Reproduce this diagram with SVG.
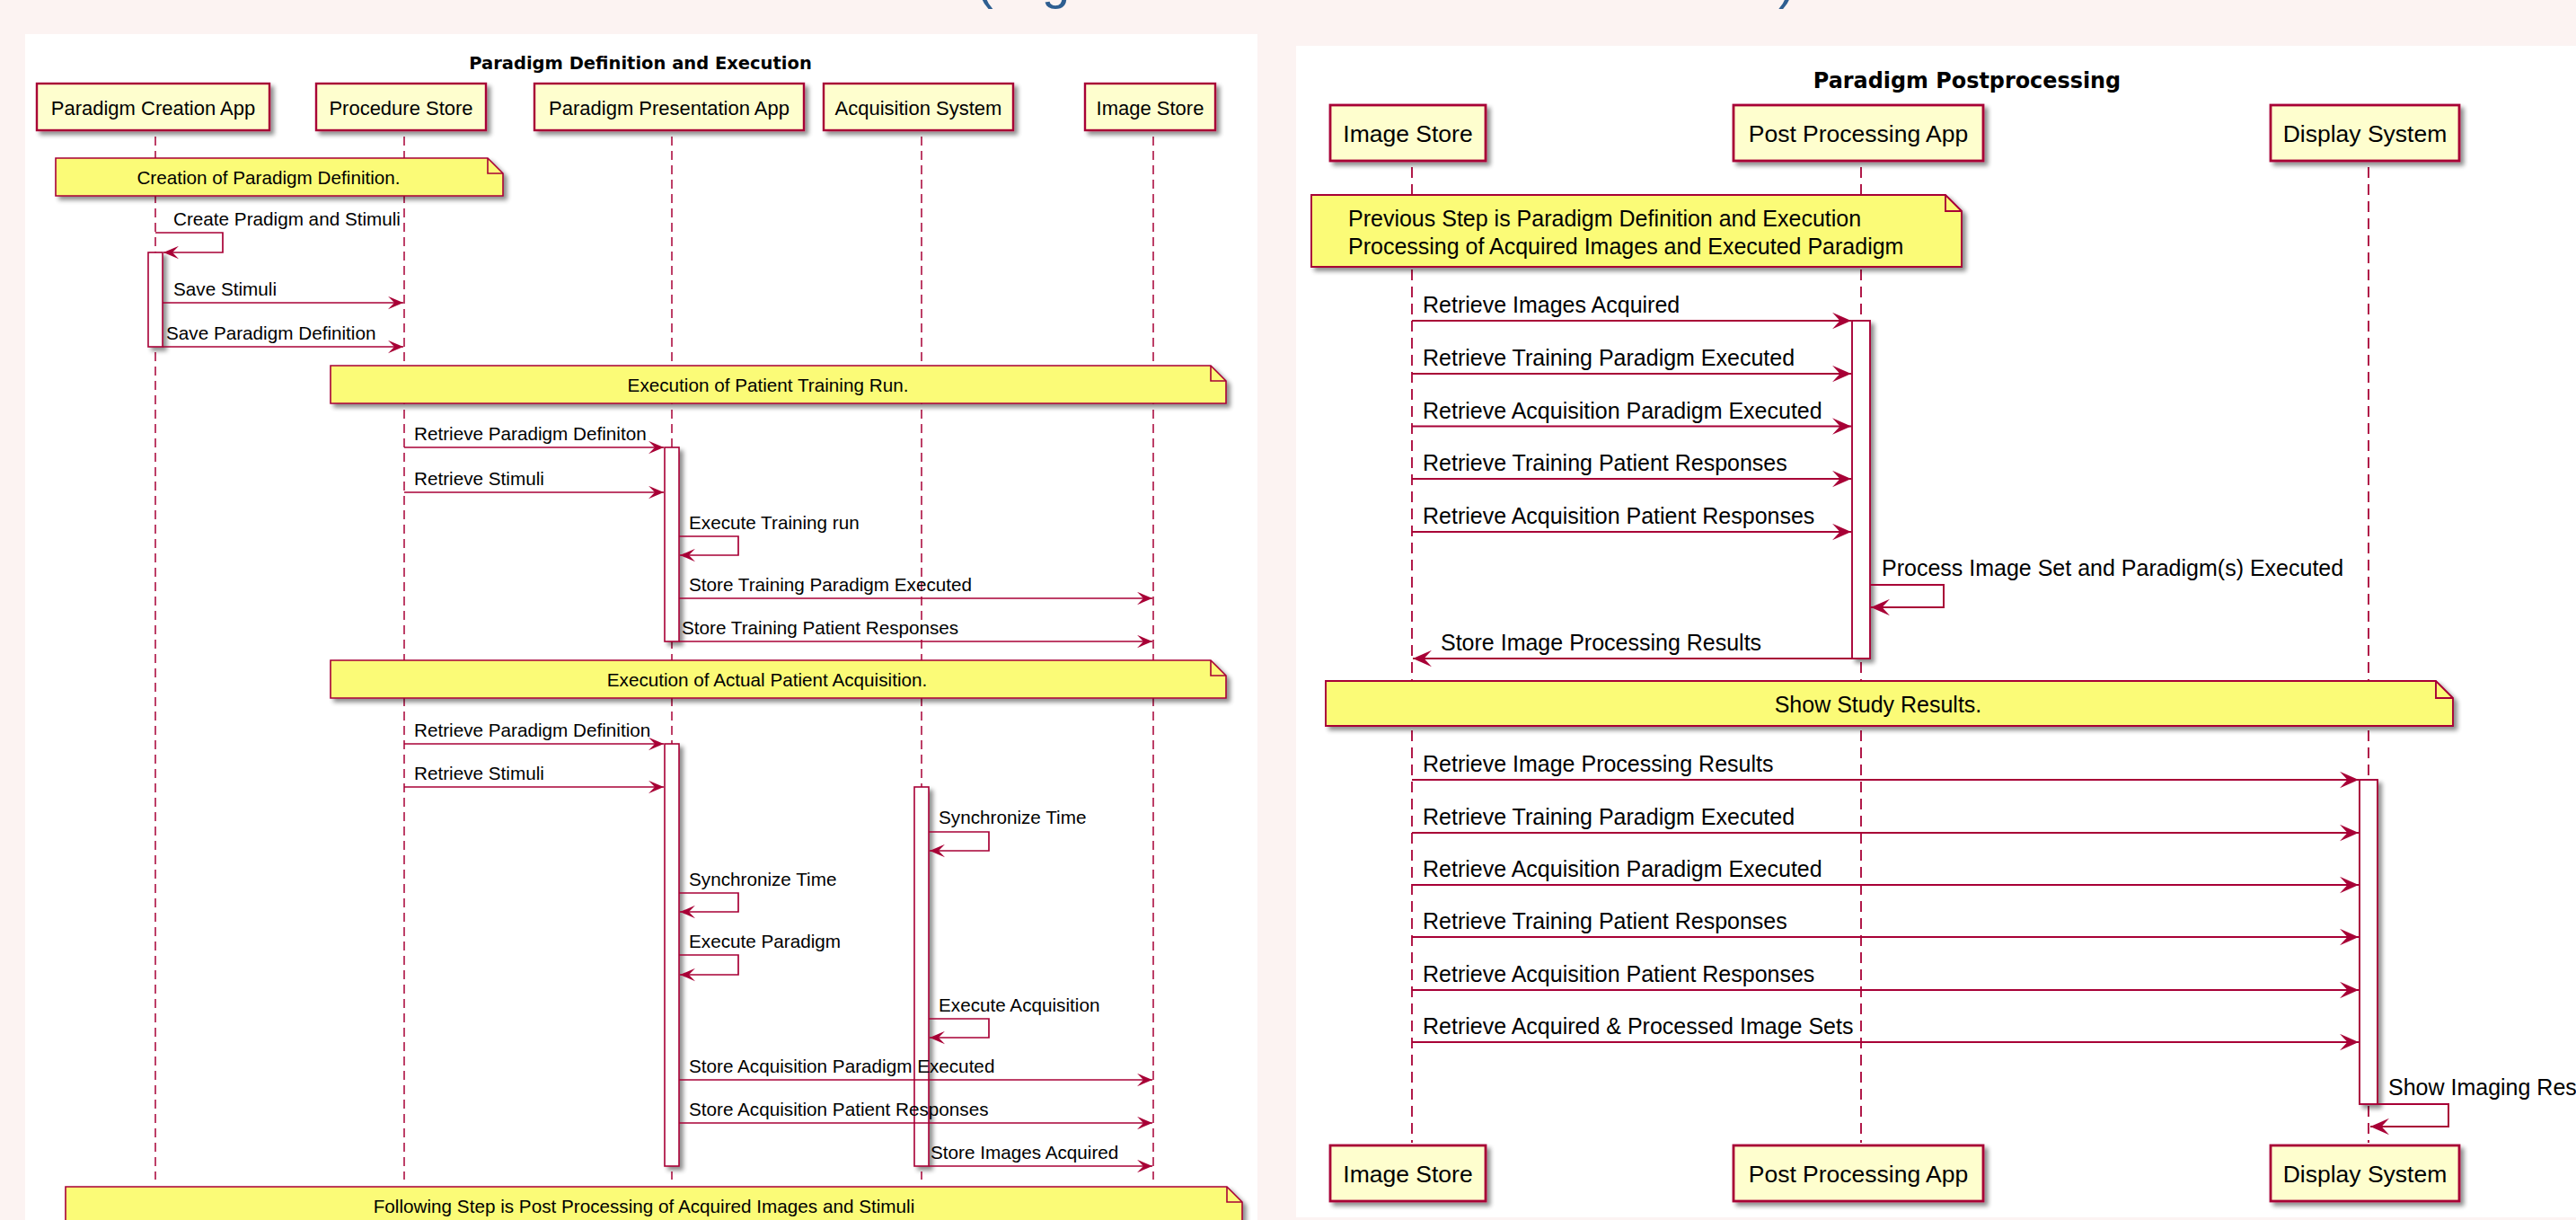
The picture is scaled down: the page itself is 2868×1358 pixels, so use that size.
<svg xmlns="http://www.w3.org/2000/svg" width="2868" height="1358" viewBox="0 0 2868 1358">
<defs>
<style>
.bg{fill:#FCF3F2}
.panel{fill:#FFFFFF}
.title{font-family:"DejaVu Sans",Verdana,sans-serif;font-weight:bold;fill:#000;text-anchor:middle}
.tL{font-size:19.5px}
.tR{font-size:23.9px}
.part{fill:#FEFECE;stroke:#A80036;filter:url(#sh)}
.partL{stroke-width:2.4}
.partR{stroke-width:2.8}
.ptxt{font-family:"Liberation Sans",Arial,sans-serif;fill:#000;text-anchor:middle}
.ptL{font-size:22px}
.ptR{font-size:26.5px}
.life{stroke:#A80036;fill:none}
.lifeL{stroke-width:1.5;stroke-dasharray:10,6}
.lifeR{stroke-width:1.8;stroke-dasharray:12,7}
.act{fill:#FFFFFF;stroke:#A80036;filter:url(#sh)}
.actL{stroke-width:1.6}
.actR{stroke-width:1.9}
.note{fill:#FBFB77;stroke:#A80036;filter:url(#sh)}
.fold{fill:none;stroke:#A80036}
.nL{stroke-width:1.6}
.nR{stroke-width:1.9}
.msg{fill:none;stroke:#A80036}
.mL{stroke-width:1.7;marker-end:url(#ahL)}
.mR{stroke-width:2;marker-end:url(#ahR)}
.mtxt{font-family:"Liberation Sans",Arial,sans-serif;fill:#000}
.mtL{font-size:20.7px}
.mtR{font-size:25px}
.mid{text-anchor:middle}
</style>
<filter id="sh" x="-0.5" y="-0.5" width="2.5" height="2.5">
<feGaussianBlur in="SourceAlpha" stdDeviation="2.5"/>
<feOffset dx="4" dy="4" result="o"/>
<feComponentTransfer in="o" result="s"><feFuncA type="linear" slope="0.45"/></feComponentTransfer>
<feMerge><feMergeNode in="s"/><feMergeNode in="SourceGraphic"/></feMerge>
</filter>
<marker id="ahL" viewBox="0 0 17 15" refX="17" refY="7.5" markerWidth="17" markerHeight="15" orient="auto" markerUnits="userSpaceOnUse">
<path d="M17,7.5 L0,0.3 L7,7.5 L0,14.7 Z" fill="#A80036"/>
</marker>
<marker id="ahR" viewBox="0 0 21 19" refX="21" refY="9.5" markerWidth="21" markerHeight="19" orient="auto" markerUnits="userSpaceOnUse">
<path d="M21,9.5 L0,0.3 L8.5,9.5 L0,18.7 Z" fill="#A80036"/>
</marker>
</defs>

<rect class="bg" x="0" y="0" width="2868" height="1358"/>
<g id="page-heading"><text x="1087" y="-2" font-family="Liberation Sans, Arial, sans-serif" font-size="56" fill="#2E5E91">(<tspan x="1160">g</tspan><tspan x="1980">)</tspan></text></g>

<!-- ===== Left panel ===== -->
<rect class="panel" x="28" y="38" width="1372" height="1320"/>
<text class="title tL" x="713" y="77">Paradigm Definition and Execution</text>

<g id="lifelines-left">
<path class="life lifeL" d="M173,152 V1313"/>
<path class="life lifeL" d="M450,152 V1313"/>
<path class="life lifeL" d="M748,152 V1313"/>
<path class="life lifeL" d="M1026,152 V1313"/>
<path class="life lifeL" d="M1284,152 V1313"/>
</g>

<g id="paradigm-creation-app">
<rect class="part partL" x="41" y="93" width="259" height="52"/>
<text class="ptxt ptL" x="170.5" y="128">Paradigm Creation App</text>
</g>
<g id="procedure-store">
<rect class="part partL" x="352" y="93" width="189" height="52"/>
<text class="ptxt ptL" x="446.5" y="128">Procedure Store</text>
</g>
<g id="paradigm-presentation-app">
<rect class="part partL" x="595" y="93" width="300" height="52"/>
<text class="ptxt ptL" x="745" y="128">Paradigm Presentation App</text>
</g>
<g id="acquisition-system">
<rect class="part partL" x="917" y="93" width="211" height="52"/>
<text class="ptxt ptL" x="1022.5" y="128">Acquisition System</text>
</g>
<g id="image-store-left">
<rect class="part partL" x="1208" y="93" width="145" height="52"/>
<text class="ptxt ptL" x="1280.5" y="128">Image Store</text>
</g>

<g id="note-creation">
<path class="note nL" d="M62,176 H543 L560,193 V218 H62 Z"/>
<path class="fold nL" d="M543,176 V193 H560"/>
<text class="mtxt mtL mid" x="299" y="205">Creation of Paradigm Definition.</text>
</g>
<g id="note-training">
<path class="note nL" d="M368,407 H1348 L1365,424 V449 H368 Z"/>
<path class="fold nL" d="M1348,407 V424 H1365"/>
<text class="mtxt mtL mid" x="855" y="436">Execution of Patient Training Run.</text>
</g>
<g id="note-acquisition">
<path class="note nL" d="M368,735 H1348 L1365,752 V777 H368 Z"/>
<path class="fold nL" d="M1348,735 V752 H1365"/>
<text class="mtxt mtL mid" x="854" y="764">Execution of Actual Patient Acquisition.</text>
</g>
<g id="note-following">
<path class="note nL" d="M73,1321 H1366 L1383,1338 V1400 H73 Z"/>
<path class="fold nL" d="M1366,1321 V1338 H1383"/>
<text class="mtxt mtL mid" x="717" y="1350">Following Step is Post Processing of Acquired Images and Stimuli</text>
</g>

<g id="activations-left">
<rect class="act actL" x="165" y="281" width="16" height="105"/>
<rect class="act actL" x="740" y="498" width="16" height="216"/>
<rect class="act actL" x="740" y="828" width="16" height="470"/>
<rect class="act actL" x="1018" y="876" width="16" height="422"/>
</g>

<g id="connectors-left">
<path class="msg mL" d="M173,259 H248 V281 H182"/>
<text class="mtxt mtL" x="193" y="251">Create Pradigm and Stimuli</text>
<path class="msg mL" d="M181,337 H449"/>
<text class="mtxt mtL" x="193" y="329">Save Stimuli</text>
<path class="msg mL" d="M181,386 H449"/>
<text class="mtxt mtL" x="185" y="378">Save Paradigm Definition</text>
<path class="msg mL" d="M450,498 H739"/>
<text class="mtxt mtL" x="461" y="490">Retrieve Paradigm Definiton</text>
<path class="msg mL" d="M450,548 H739"/>
<text class="mtxt mtL" x="461" y="540">Retrieve Stimuli</text>
<path class="msg mL" d="M756,597 H822 V618 H757"/>
<text class="mtxt mtL" x="767" y="589">Execute Training run</text>
<path class="msg mL" d="M756,666 H1283"/>
<text class="mtxt mtL" x="767" y="658">Store Training Paradigm Executed</text>
<path class="msg mL" d="M756,714 H1283"/>
<text class="mtxt mtL" x="759" y="706">Store Training Patient Responses</text>
<path class="msg mL" d="M450,828 H739"/>
<text class="mtxt mtL" x="461" y="820">Retrieve Paradigm Definition</text>
<path class="msg mL" d="M450,876 H739"/>
<text class="mtxt mtL" x="461" y="868">Retrieve Stimuli</text>
<path class="msg mL" d="M1034,926 H1101 V947 H1035"/>
<text class="mtxt mtL" x="1045" y="917">Synchronize Time</text>
<path class="msg mL" d="M756,994 H822 V1015 H757"/>
<text class="mtxt mtL" x="767" y="986">Synchronize Time</text>
<path class="msg mL" d="M756,1063 H822 V1085 H757"/>
<text class="mtxt mtL" x="767" y="1055">Execute Paradigm</text>
<path class="msg mL" d="M1034,1134 H1101 V1155 H1035"/>
<text class="mtxt mtL" x="1045" y="1126">Execute Acquisition</text>
<path class="msg mL" d="M756,1202 H1283"/>
<text class="mtxt mtL" x="767" y="1194">Store Acquisition Paradigm Executed</text>
<path class="msg mL" d="M756,1250 H1283"/>
<text class="mtxt mtL" x="767" y="1242">Store Acquisition Patient Responses</text>
<path class="msg mL" d="M1034,1298 H1283"/>
<text class="mtxt mtL" x="1036" y="1290">Store Images Acquired</text>
</g>

<!-- ===== Right panel ===== -->
<rect class="panel" x="1443" y="51" width="1425" height="1304"/>
<text class="title tR" x="2190" y="98">Paradigm Postprocessing</text>

<g id="lifelines-right">
<path class="life lifeR" d="M1572,186 V1272"/>
<path class="life lifeR" d="M2072,186 V1272"/>
<path class="life lifeR" d="M2637,186 V1272"/>
</g>

<g id="image-store-right">
<rect class="part partR" x="1481" y="117" width="173" height="62"/>
<text class="ptxt ptR" x="1567.5" y="158">Image Store</text>
<rect class="part partR" x="1481" y="1275" width="173" height="62"/>
<text class="ptxt ptR" x="1567.5" y="1316">Image Store</text>
</g>
<g id="post-processing-app">
<rect class="part partR" x="1930" y="117" width="278" height="62"/>
<text class="ptxt ptR" x="2069" y="158">Post Processing App</text>
<rect class="part partR" x="1930" y="1275" width="278" height="62"/>
<text class="ptxt ptR" x="2069" y="1316">Post Processing App</text>
</g>
<g id="display-system">
<rect class="part partR" x="2528" y="117" width="210" height="62"/>
<text class="ptxt ptR" x="2633" y="158">Display System</text>
<rect class="part partR" x="2528" y="1275" width="210" height="62"/>
<text class="ptxt ptR" x="2633" y="1316">Display System</text>
</g>

<g id="note-previous">
<path class="note nR" d="M1460,217 H2166 L2184,235 V297 H1460 Z"/>
<path class="fold nR" d="M2166,217 V235 H2184"/>
<text class="mtxt mtR" x="1501" y="252">Previous Step is Paradigm Definition and Execution</text>
<text class="mtxt mtR" x="1501" y="283">Processing of Acquired Images and Executed Paradigm</text>
</g>
<g id="note-show">
<path class="note nR" d="M1476,758 H2712 L2731,777 V808 H1476 Z"/>
<path class="fold nR" d="M2712,758 V777 H2731"/>
<text class="mtxt mtR mid" x="2091" y="793">Show Study Results.</text>
</g>

<g id="activations-right">
<rect class="act actR" x="2062" y="357" width="20" height="376"/>
<rect class="act actR" x="2627" y="868" width="20" height="361"/>
</g>

<g id="connectors-right">
<path class="msg mR" d="M1572,357 H2061"/>
<text class="mtxt mtR" x="1584" y="348">Retrieve Images Acquired</text>
<path class="msg mR" d="M1572,416 H2061"/>
<text class="mtxt mtR" x="1584" y="407">Retrieve Training Paradigm Executed</text>
<path class="msg mR" d="M1572,474.5 H2061"/>
<text class="mtxt mtR" x="1584" y="465.5">Retrieve Acquisition Paradigm Executed</text>
<path class="msg mR" d="M1572,533 H2061"/>
<text class="mtxt mtR" x="1584" y="524">Retrieve Training Patient Responses</text>
<path class="msg mR" d="M1572,592 H2061"/>
<text class="mtxt mtR" x="1584" y="583">Retrieve Acquisition Patient Responses</text>
<path class="msg mR" d="M2082,651 H2164 V676 H2083"/>
<text class="mtxt mtR" x="2095" y="641">Process Image Set and Paradigm(s) Executed</text>
<path class="msg mR" d="M2062,733 H1573"/>
<text class="mtxt mtR" x="1604" y="724">Store Image Processing Results</text>
<path class="msg mR" d="M1572,868 H2626"/>
<text class="mtxt mtR" x="1584" y="859">Retrieve Image Processing Results</text>
<path class="msg mR" d="M1572,927 H2626"/>
<text class="mtxt mtR" x="1584" y="918">Retrieve Training Paradigm Executed</text>
<path class="msg mR" d="M1572,985 H2626"/>
<text class="mtxt mtR" x="1584" y="976">Retrieve Acquisition Paradigm Executed</text>
<path class="msg mR" d="M1572,1043 H2626"/>
<text class="mtxt mtR" x="1584" y="1034">Retrieve Training Patient Responses</text>
<path class="msg mR" d="M1572,1102 H2626"/>
<text class="mtxt mtR" x="1584" y="1093">Retrieve Acquisition Patient Responses</text>
<path class="msg mR" d="M1572,1160 H2626"/>
<text class="mtxt mtR" x="1584" y="1151">Retrieve Acquired &amp; Processed Image Sets</text>
<path class="msg mR" d="M2647,1229 H2726 V1254 H2639"/>
<text class="mtxt mtR" x="2659" y="1219">Show Imaging Res</text>
</g>
</svg>
